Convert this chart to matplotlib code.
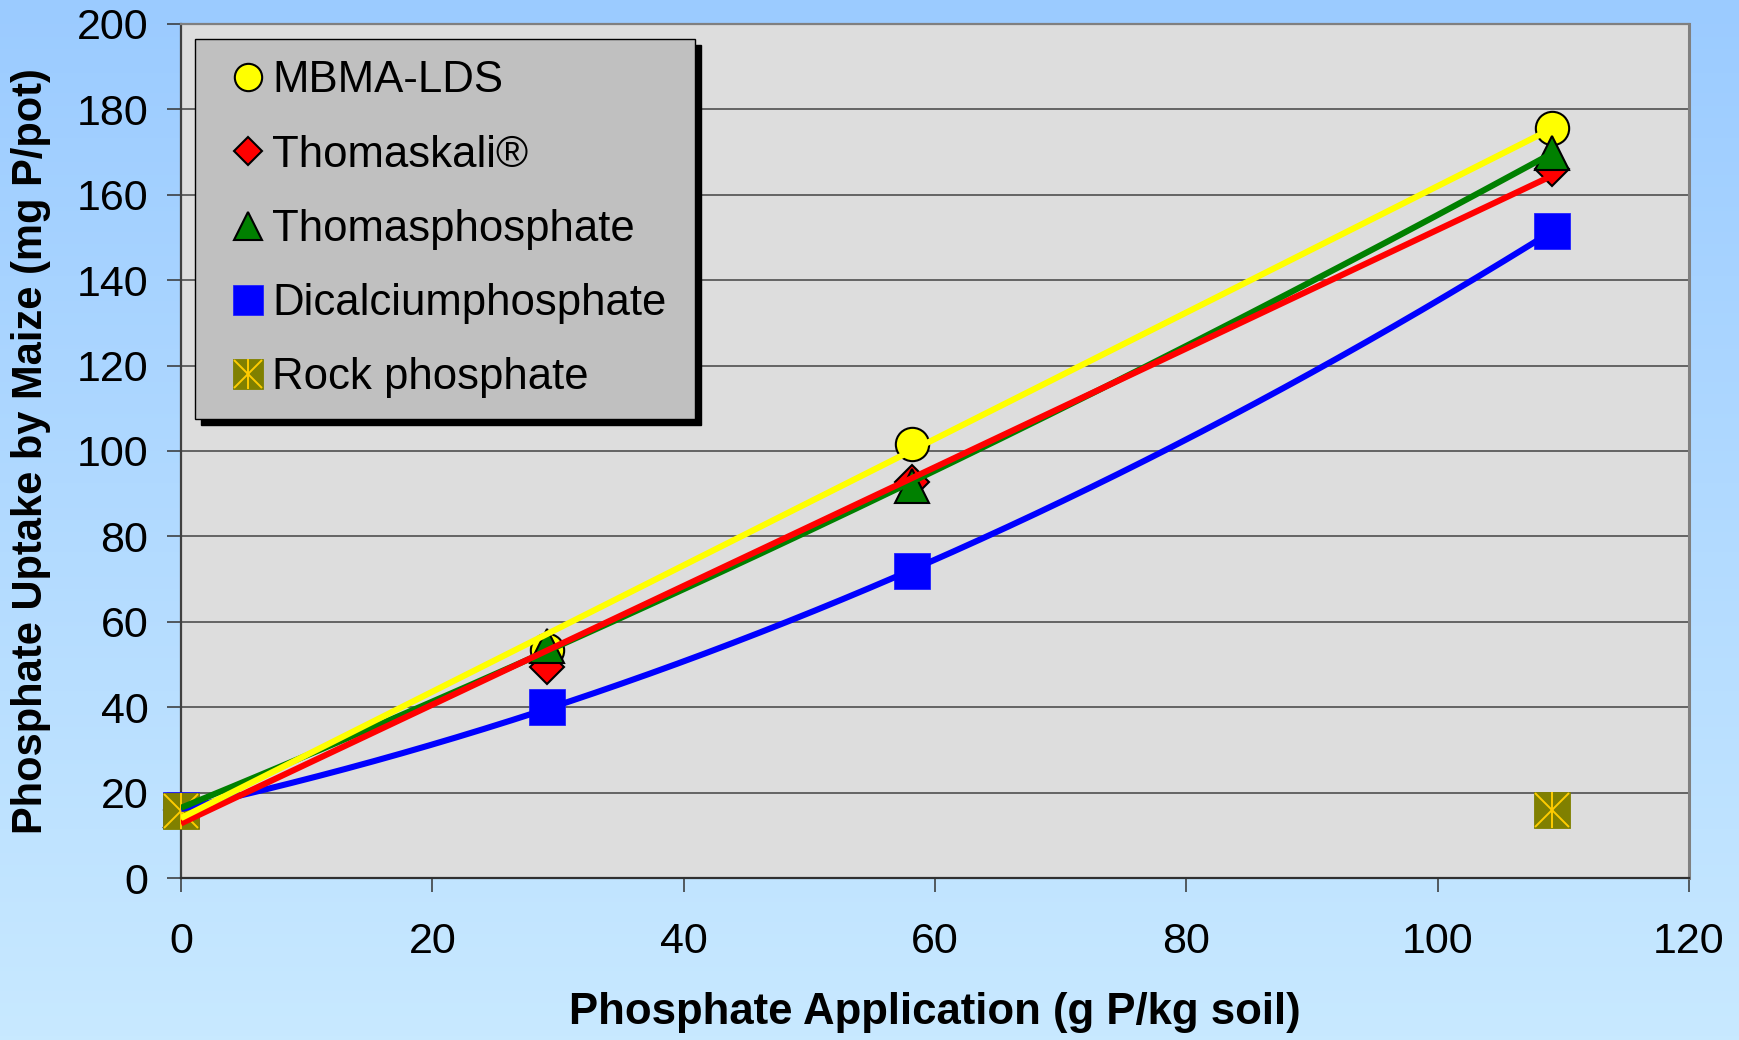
import numpy as np
import matplotlib.pyplot as plt
from matplotlib.lines import Line2D

plt.rcParams['font.family'] = ['Liberation Sans', 'DejaVu Sans']

# phosphate applied (g P/kg soil), same rates for each fertiliser
rates = [0, 29.1, 58.2, 109.1]

# P uptake by maize (mg P/pot)
mbma = [16, 53.5, 101.6, 175.7]
thomaskali = [16, 49.5, 92.7, 166.0]
thomasphos = [16, 54.3, 91.9, 169.9]
dicalcium = [16, 40.0, 71.9, 151.5]

rock_rates = [0, 109.1]
rock = [15.8, 15.9]

names = ['MBMA-LDS', 'Thomaskali®', 'Thomasphosphate', 'Dicalciumphosphate', 'Rock phosphate']
xticks = [0, 20, 40, 60, 80, 100, 120]
yticks = [0, 20, 40, 60, 80, 100, 120, 140, 160, 180, 200]

# trendline type per series (excel style: linear / polynomial)
trend_deg = [1, 1, 2, 2]
colors = ['#FFFF00', '#FF0000', '#008000', '#0000FF']
styles = [dict(marker='o', ms=24, mfc='#FFFF00', mec='black', mew=1.5),
          dict(marker='D', ms=17, mfc='#FF0000', mec='black', mew=1.5),
          dict(marker='^', ms=25, mfc='#008000', mec='black', mew=1.5),
          dict(marker='s', ms=26, mfc='#0000FF', mec='#2222FF', mew=0.6)]
olive = '#808000'
gold = '#FFCC00'

fig = plt.figure(figsize=(17.4, 10.4), dpi=100)

# blue gradient behind everything
bg = fig.add_axes([0, 0, 1, 1], zorder=-10)
g = np.linspace(0, 1, 256)[:, None, None]
top = np.array([155, 203, 255]) / 255.0
bot = np.array([200, 233, 255]) / 255.0
bg.imshow(top + (bot - top) * g, aspect='auto', extent=[0, 1, 0, 1])
bg.axis('off')

ax = fig.add_axes([181 / 1740, 1 - 878 / 1040, 1508 / 1740, 854 / 1040])
ax.set_facecolor('#DDDDDD')
ax.set_xlim(0, 120)
ax.set_ylim(0, 200)
ax.set_xticks(xticks)
ax.set_yticks(yticks)
ax.grid(axis='y', color='#5a5a5a', lw=1.3)
ax.set_axisbelow(True)

series = [mbma, thomaskali, thomasphos, dicalcium]
for ys, st in zip(series, styles):
    ax.plot(rates, ys, ls='none', zorder=3, clip_on=False, **st)

ax.plot(rock_rates, rock, ls='none', marker='s', ms=26, mfc=olive, mec=olive, mew=0.6,
        zorder=3, clip_on=False)
ax.plot(rock_rates, rock, ls='none', marker='x', ms=25, mec=gold, mew=1.4, zorder=3, clip_on=False)
ax.plot(rock_rates, rock, ls='none', marker='|', ms=26, mec=gold, mew=1.4, zorder=3, clip_on=False)

# trendlines on top of the markers
xs = np.linspace(0, rates[-1], 200)
for i in [3, 2, 1, 0]:
    p = np.polyfit(rates, series[i], trend_deg[i])
    ax.plot(xs, np.polyval(p, xs), color=colors[i], lw=4.4, zorder=4,
            solid_capstyle='butt')

ax.tick_params(axis='both', labelsize=31, length=10, width=1.1, color='#333333')
ax.tick_params(axis='y', pad=13.5)
ax.tick_params(axis='x', pad=22)
ax.spines['left'].set(color='#404040', lw=1.6)
ax.spines['bottom'].set(color='#303030', lw=1.6)
ax.spines['right'].set(color='#808080', lw=2.2)
ax.spines['top'].set(color='#808080', lw=1.6)

ax.set_xlabel('Phosphate Application (g P/kg soil)', fontsize=31.5, fontweight='bold')
ax.xaxis.set_label_coords(0.5, -0.158)
ax.xaxis.label.set_va('center')
ax.set_ylabel('Phosphate Uptake by Maize (mg P/pot)', fontsize=30, fontweight='bold')
ax.yaxis.set_label_coords(-0.0995, 0.5)
ax.yaxis.label.set_va('center')

handles = [Line2D([], [], ls='none', **st) for st in styles]
rh = (Line2D([], [], ls='none', marker='s', ms=26, mfc=olive, mec=olive, mew=0.6),
      Line2D([], [], ls='none', marker='x', ms=25, mec=gold, mew=1.4),
      Line2D([], [], ls='none', marker='|', ms=26, mec=gold, mew=1.4))
handles.append(rh)
leg = ax.legend(handles, names, loc='upper left', bbox_to_anchor=(0.0093, 0.982, 0.3316, 0.0),
                mode='expand', borderaxespad=0, fontsize=31.5, markerscale=0.82,
                handlelength=1.48, handletextpad=-0.2, borderpad=0.48, labelspacing=0.76,
                fancybox=False, facecolor='#C0C0C0', edgecolor='black', framealpha=1,
                shadow={'ox': 4, 'oy': -4, 'shade': 1.0, 'alpha': 1})
leg.get_frame().set_linewidth(1.0)
leg.set_zorder(6)

fig.savefig('out.png', dpi=100)
